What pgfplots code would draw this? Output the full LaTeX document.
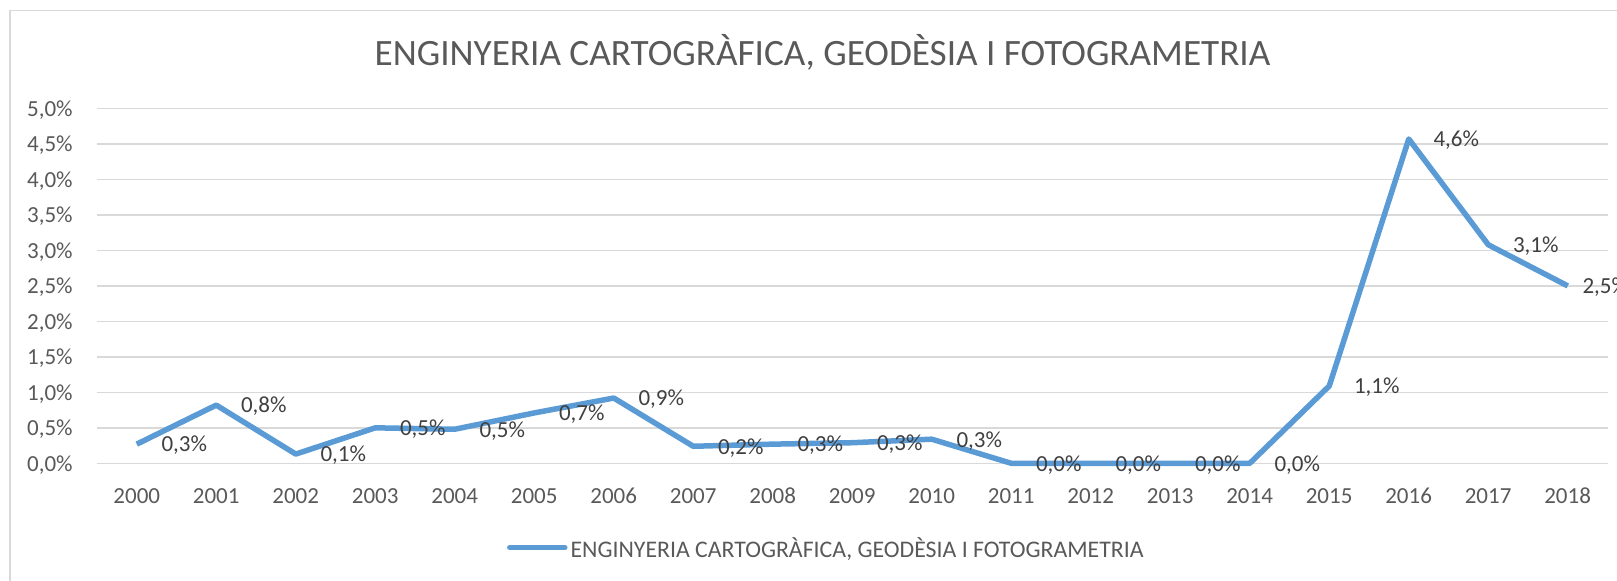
\documentclass[border=0pt]{standalone}
\usepackage{fontspec}
\setmainfont{Carlito}
\usepackage{pgfplots}
\pgfplotsset{compat=1.18}
\definecolor{excelblue}{HTML}{5B9BD5}
\definecolor{txtgray}{HTML}{595959}
\definecolor{lblgray}{HTML}{404040}
\definecolor{gridgray}{HTML}{D9D9D9}

\begin{document}
\begin{tikzpicture}
\begin{axis}[
    at={(0pt,0pt)}, anchor=south west,
    scale only axis,
    width=755.25pt, height=177.4pt,
    xmin=1999.5, xmax=2018.5,
    ymin=0, ymax=5,
    xtick={2000,...,2018},
    ytick={0,0.5,1,1.5,2,2.5,3,3.5,4,4.5,5},
    /pgf/number format/assume math mode=true,
    xticklabel style={/pgf/number format/1000 sep={}, anchor=center, yshift=-16.35pt,
        font=\fontsize{11.5}{14}\selectfont, text=txtgray, inner sep=0pt},
    yticklabel={\pgfmathprintnumber[fixed,fixed zerofill,precision=1,use comma]{\tick}\%},
    yticklabel style={anchor=east, xshift=-12pt, inner sep=0pt, text depth=0pt,
        font=\fontsize{11.5}{14}\selectfont, text=txtgray},
    major tick length=0pt,
    axis line style={draw=none},
    ymajorgrids,
    major grid style={gridgray, line width=0.75pt},
    clip=false,
    visualization depends on={value \coordindex \as \myidx},
    nodes near coords={\pgfmathprintnumber[fixed,fixed zerofill,precision=1,use comma]{\pgfplotspointmeta}\%},
    nodes near coords align=horizontal,
    every node near coord/.append style={inner sep=0pt, text depth=0pt,
        xshift={ifthenelse(\myidx==18,6,11)},
        font=\fontsize{11.5}{14}\selectfont, text=lblgray},
    legend style={at={(0.2712,-0.2376)}, anchor=west, draw=none, fill=none, inner sep=0pt,
        font=\fontsize{11.9}{14}\selectfont, text=txtgray,
        nodes={inner sep=1.5pt, text depth=0pt}},
    legend image code/.code={\draw[excelblue, line width=2.75pt, line cap=round] (0pt,0pt) -- (27.5pt,0pt);},
]
\addplot[excelblue, line width=2.75pt, line join=round] coordinates {
    (2000,0.27) (2001,0.82) (2002,0.13) (2003,0.50) (2004,0.48)
    (2005,0.71) (2006,0.92) (2007,0.24) (2008,0.27) (2009,0.29)
    (2010,0.34) (2011,0) (2012,0) (2013,0) (2014,0)
    (2015,1.09) (2016,4.57) (2017,3.08) (2018,2.50)
};
\addlegendentry{ENGINYERIA CARTOGRÀFICA, GEODÈSIA I FOTOGRAMETRIA}
\end{axis}
\node[anchor=base, font=\fontsize{18.6}{22}\selectfont, text=txtgray] at (362.75pt,198.8pt)
    {ENGINYERIA CARTOGRÀFICA, GEODÈSIA I FOTOGRAMETRIA};
\draw[gridgray, line width=0.75pt] (-43.5pt,-80pt) -- (-43.5pt,226.3pt) -- (800pt,226.3pt);
\pgfresetboundingbox
\path[use as bounding box] (-48.5pt,-58.35pt) rectangle (760pt,231.65pt);
\end{tikzpicture}
\end{document}
